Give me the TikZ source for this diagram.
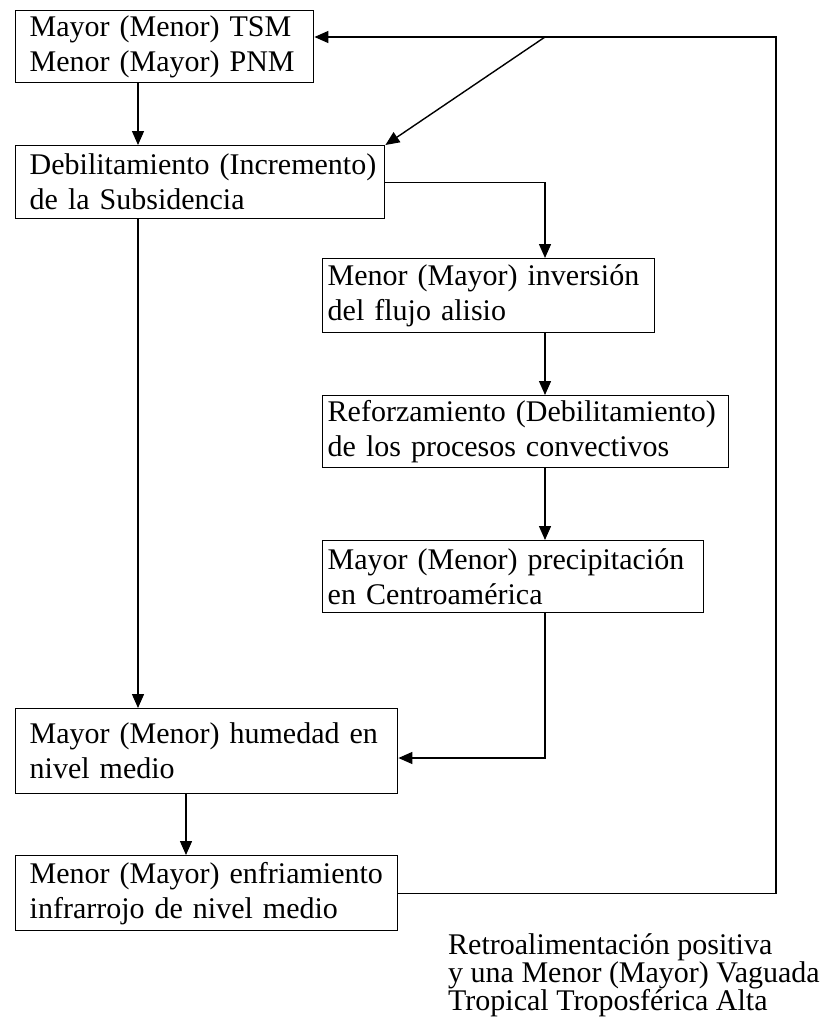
\documentclass[tikz,border=0pt]{standalone}
\usepackage{fontspec}
\setmainfont{Liberation Serif}
\usetikzlibrary{arrows.meta}
\newcommand{\indL}{\hspace*{14pt}}
\newcommand{\indM}{\hspace*{5pt}}
\begin{document}
\begin{tikzpicture}[x=1pt,y=-1pt,
  box/.style={draw, line width=1.4pt, rectangle, anchor=north west, inner xsep=0pt, inner ysep=2pt,
    align=left, font=\fontsize{30}{35}\selectfont},
  arr/.style={line width=1.4pt, -{Triangle[length=14pt,width=12pt]}},
  ln/.style={line width=1.4pt}]
\useasboundingbox (0,0) rectangle (828,1031);
\node[box, text width=298pt, minimum height=72pt] (b1) at (15,10)
  {\indL Mayor (Menor) TSM\\\indL Menor (Mayor) PNM};
\node[box, text width=369pt, minimum height=73pt] (b2) at (15,145)
  {\indL Debilitamiento (Incremento)\\\indL de la Subsidencia};
\node[box, text width=332pt, minimum height=74pt] (b3) at (322,258)
  {\indM Menor (Mayor) inversión\\\indM del flujo alisio};
\node[box, text width=406pt, minimum height=72pt] (b4) at (322,395)
  {\indM Reforzamiento (Debilitamiento)\\\indM de los procesos convectivos};
\node[box, text width=381pt, minimum height=72pt] (b5) at (322,540)
  {\indM Mayor (Menor) precipitación\\\indM en Centroamérica};
\node[box, text width=382pt, minimum height=85pt] (b6) at (15,708)
  {\indL Mayor (Menor) humedad en\\\indL nivel medio};
\node[box, text width=382pt, minimum height=75pt] (b7) at (15,855)
  {\indL Menor (Mayor) enfriamiento\\\indL infrarrojo de nivel medio};
\node[anchor=north west, inner sep=0pt, align=left, font=\fontsize{30}{28}\selectfont] (note) at (448,933)
  {Retroalimentación positiva\\y una Menor (Mayor) Vaguada\\Tropical Troposférica Alta};
\coordinate (xl) at (138,0);
\coordinate (xm) at (186,0);
\coordinate (xr) at (545,0);
\coordinate (rc) at (776,37);
\coordinate (dj) at (545,37);
\coordinate (yh) at (0,758);
\draw[arr] (b1.south -| xl) -- (b2.north -| xl);
\draw[arr] (b2.south -| xl) -- (b6.north -| xl);
\draw[arr] (b6.south -| xm) -- (b7.north -| xm);
\draw[arr] (b2.east) -| (b3.north -| xr);
\draw[arr] (b3.south -| xr) -- (b4.north -| xr);
\draw[arr] (b4.south -| xr) -- (b5.north -| xr);
\draw[arr] (b5.south -| xr) |- (b6.east |- yh);
\draw[arr] (b7.east) -| (rc) -- (b1.east |- rc);
\draw[arr] (dj) -- (b2.north east);
\end{tikzpicture}
\end{document}
